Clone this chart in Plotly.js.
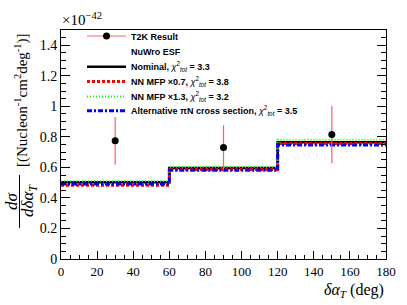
<!DOCTYPE html>
<html><head><meta charset="utf-8">
<script src="https://cdn.plot.ly/plotly-3.0.1.min.js"></script>
<style>body{margin:0;background:#fff}#c{width:407px;height:305px}</style>
</head><body><div id="c"></div>
<script>
// values in units of 1e-42 Nucleon^-1 cm^2 deg^-1
const binEdges = [0, 60, 120, 180];
const dataX = [30, 90, 150];
const dataY = [0.774, 0.731, 0.815];
const dataErr = [0.156, 0.145, 0.187];
const nominal = [0.502, 0.596, 0.765];
const mfp07 = [0.483, 0.587, 0.757];
const mfp13 = [0.509, 0.602, 0.781];
const altPiN = [0.491, 0.581, 0.746];
const xTickVals = [0, 20, 40, 60, 80, 100, 120, 140, 160, 180];
const yTickVals = [0, 0.2, 0.4, 0.6, 0.8, 1, 1.2, 1.4];

const step = v => v.concat([v[v.length - 1]]);

const W = 407, H = 305, L = 61, R = 21, T = 30, B = 46;
const pw = W - L - R, ph = H - T - B;
const px = x => (x - L) / pw;
const py = y => (H - B - y) / ph;

const legFont = {family: 'Liberation Sans, Arial, sans-serif', size: 9, color: '#000'};
const legendRows = [36, 51.7, 66.7, 81.5, 96.5, 110.7];
function mkLegend(i) {
  return {x: px(82), xanchor: 'left', y: py(legendRows[i]), yanchor: 'middle',
    bgcolor: 'rgba(0,0,0,0)', borderwidth: 0, font: legFont, itemwidth: 39,
    itemclick: false, itemdoubleclick: false};
}
const chi = '<i>χ</i><sup>2</sup><sub><i>tot</i></sub>';

const traces = [
  {x: binEdges, y: step(nominal), mode: 'lines', line: {shape: 'hv', color: '#000', width: 2.5},
   name: '<b>Nominal, </b>' + chi + '<b> = 3.3</b>', legend: 'legend3'},
  {x: binEdges, y: step(mfp07), mode: 'lines', line: {shape: 'hv', color: '#ff0000', width: 3, dash: '3px,2px'},
   name: '<b>NN MFP ×0.7, </b>' + chi + '<b> = 3.8</b>', legend: 'legend4'},
  {x: binEdges, y: step(mfp13), mode: 'lines', line: {shape: 'hv', color: '#00ff00', width: 2, dash: '1px,2px'},
   name: '<b>NN MFP ×1.3, </b>' + chi + '<b> = 3.2</b>', legend: 'legend5'},
  {x: binEdges, y: step(altPiN), mode: 'lines', line: {shape: 'hv', color: '#0000ff', width: 3, dash: '5px,2px,2px,2px'},
   name: '<b>Alternative πN cross section, </b>' + chi + '<b> = 3.5</b>', legend: 'legend6'},
  {x: dataX, y: dataY, mode: 'markers', marker: {color: '#000', size: 7},
   error_y: {type: 'data', array: dataErr, color: '#ff6060', thickness: 1.2, width: 0},
   showlegend: false},
  {x: [null], y: [null], mode: 'lines+markers', line: {color: '#ff6060', width: 1.2}, marker: {color: '#000', size: 7},
   name: '<b>T2K Result</b>', legend: 'legend'},
  {x: [null], y: [null], mode: 'lines', line: {color: 'rgba(0,0,0,0)', width: 0},
   name: '<b>NuWro ESF</b>', legend: 'legend2'}
];

const serif = 'Liberation Serif, Times New Roman, serif';
const layout = {
  width: W, height: H,
  margin: {l: L, r: R, t: T, b: B},
  paper_bgcolor: '#fff', plot_bgcolor: '#fff',
  showlegend: true,
  legend: mkLegend(0), legend2: mkLegend(1), legend3: mkLegend(2),
  legend4: mkLegend(3), legend5: mkLegend(4), legend6: mkLegend(5),
  xaxis: {range: [0, 180], tickvals: xTickVals, ticks: 'inside', ticklen: 8, tickcolor: '#000',
    showline: true, linecolor: '#000', linewidth: 1, mirror: true, showgrid: false, zeroline: false,
    tickfont: {family: serif, size: 13, color: '#000'},
    minor: {dtick: 5, ticks: 'inside', ticklen: 4, tickcolor: '#000', showgrid: false}},
  yaxis: {range: [0, 1.5], tickvals: yTickVals, ticks: 'inside', ticklen: 9, tickcolor: '#000',
    showline: true, linecolor: '#000', linewidth: 1, mirror: 'ticks', showgrid: false, zeroline: false,
    tickfont: {family: serif, size: 14, color: '#000'},
    minor: {dtick: 0.05, ticks: 'inside', ticklen: 5, tickcolor: '#000', showgrid: false}},
  annotations: [
    {xref: 'paper', yref: 'paper', x: px(60), y: py(19), xanchor: 'left', yanchor: 'middle', showarrow: false,
     text: '×10<sup>−42</sup>', font: {family: serif, size: 15, color: '#000'}},
    {xref: 'paper', yref: 'paper', x: 1, y: py(279), xanchor: 'right', yanchor: 'top', showarrow: false,
     text: '<i>δα</i><sub><i>T</i></sub> (deg)', font: {family: serif, size: 16, color: '#000'}},
    {xref: 'paper', yref: 'paper', x: px(21), y: py(100), xanchor: 'center', yanchor: 'middle', showarrow: false,
     textangle: -90, text: '[(Nucleon<sup>-1</sup>cm<sup>2</sup>deg<sup>-1</sup>)]', font: {family: serif, size: 15, color: '#000'}},
    {xref: 'paper', yref: 'paper', x: px(11), y: py(201), xanchor: 'center', yanchor: 'middle', showarrow: false,
     textangle: -90, text: '<i>dσ</i>', font: {family: serif, size: 17, color: '#000'}},
    {xref: 'paper', yref: 'paper', x: px(29), y: py(201), xanchor: 'center', yanchor: 'middle', showarrow: false,
     textangle: -90, text: '<i>dδα</i><sub><i>T</i></sub>', font: {family: serif, size: 17, color: '#000'}}
  ],
  shapes: [
    {type: 'line', xref: 'paper', yref: 'paper', x0: px(19.5), x1: px(19.5), y0: py(175), y1: py(228),
     line: {color: '#000', width: 1}}
  ]
};
Plotly.newPlot('c', traces, layout, {staticPlot: true});
</script></body></html>
